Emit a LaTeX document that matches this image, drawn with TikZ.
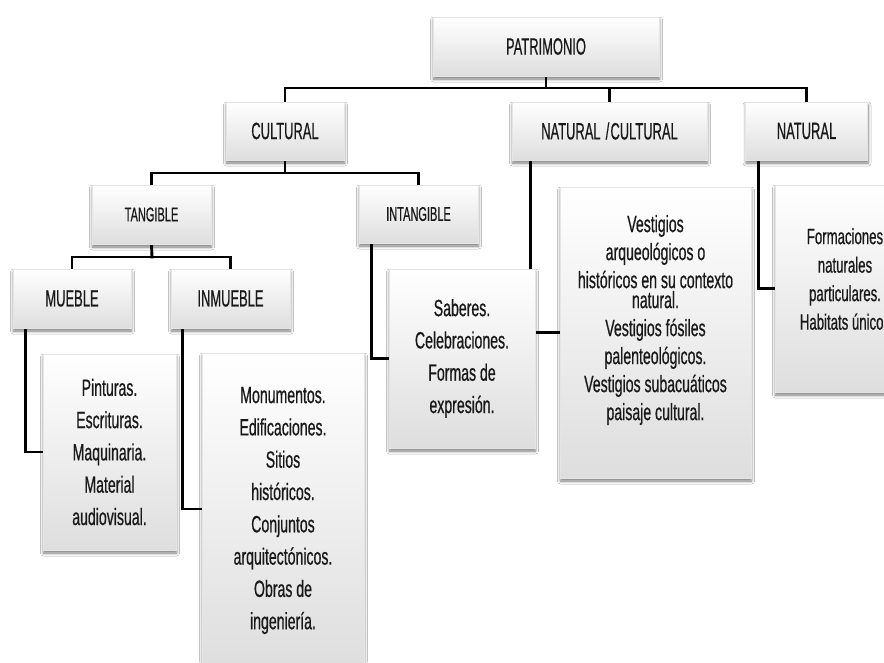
\documentclass[tikz,border=0pt]{standalone}
\usepackage{fontspec}
\setmainfont[FakeStretch=0.6,FakeBold=0.6]{Liberation Sans}
\newfontfamily\headfont[FakeStretch=0.55,FakeBold=0.5]{Liberation Sans}
\usetikzlibrary{shadows,shadows.blur}
\pgfdeclarelayer{bg}
\pgfsetlayers{bg,main}
\tikzset{
  box/.style={draw=black!10, line width=0.4pt, top color=white, bottom color=black!13,
    blur shadow={shadow xshift=0.5pt, shadow yshift=-3pt, shadow blur steps=6, shadow opacity=55, shadow blur radius=3pt},
    inner sep=0pt, align=center, text=black!90},
  headbox/.style={box, font=\headfont\fontsize{23.5}{26}\selectfont},
  smallhead/.style={box, font=\headfont\fontsize{20}{24}\selectfont},
  listbox/.style={box, font=\fontsize{23.5}{32.3}\selectfont},
  listtext/.style={align=center, inner sep=0pt, text=black!90},
  conn/.style={line width=2.9pt, black, line cap=rect},
}
\begin{document}
\begin{tikzpicture}[x=1pt, y=-1pt]
\path[use as bounding box] (0,0) rectangle (884,662);
\clip (0,0) rectangle (884,662);

% header boxes
\node[headbox, minimum width=226pt, minimum height=59pt] (patr) at (546,46.5) {PATRIMONIO};
\node[headbox, minimum width=118pt, minimum height=58pt] (cult) at (285,131) {CULTURAL};
\node[headbox, minimum width=195pt, minimum height=58pt] (nc) at (609.5,131) {NATURAL\hspace{0.22em}/\hspace{0.05em}CULTURAL};
\node[headbox, minimum width=122pt, minimum height=58pt] (nat) at (806.5,131) {NATURAL};
\node[smallhead, minimum width=119pt, minimum height=59pt] (tang) at (151.5,214.5) {TANGIBLE};
\node[smallhead, minimum width=119pt, minimum height=58pt] (intang) at (418.5,214) {INTANGIBLE};
\node[headbox, minimum width=118pt, minimum height=59pt] (mueble) at (72,298.5) {MUEBLE};
\node[headbox, minimum width=119pt, minimum height=59pt] (inmueble) at (230.5,298.5) {INMUEBLE};

% list boxes
\node[listbox, minimum width=133pt, minimum height=196pt] (pint) at (109.5,452)
  {Pinturas.\\Escrituras.\\Maquinaria.\\Material\\audiovisual.};
\node[listbox, minimum width=162pt, minimum height=315pt] (monu) at (283,510.5)
  {Monumentos.\\Edificaciones.\\Sitios\\históricos.\\Conjuntos\\arquitectónicos.\\Obras de\\ingeniería.};
\node[listbox, minimum width=146pt, minimum height=179pt] (sab) at (462,358.5)
  {Saberes.\\Celebraciones.\\Formas de\\expresión.};
\node[box, minimum width=191pt, minimum height=291pt] (vest) at (655.5,332.5) {};
\node[listtext, font=\fontsize{23.5}{28}\selectfont] (vestt) at (655.5,320)
  {Vestigios\\arqueológicos o\\históricos en su contexto\\[-8pt]natural.\\Vestigios fósiles\\palenteológicos.\\Vestigios subacuáticos\\paisaje cultural.};
\node[box, minimum width=150pt, minimum height=207pt] (form) at (850,288.5) {};
\node[listtext, font=\fontsize{22}{28.5}\selectfont] (formt) at (845,279)
  {Formaciones\\naturales\\particulares.\\Habitats únicos};

% connectors
\begin{pgfonlayer}{bg}
\fill[white] (0,0) rectangle (884,662);
\coordinate (j1) at (546,88);
\coordinate (j2) at (285,173);
\coordinate (j3) at (152,257);
\draw[conn] (patr.south) -- (j1);
\draw[conn] (cult.north) -- (cult.north |- j1) -- (nat.north |- j1) -- (nat.north);
\draw[conn] (nc.north |- j1) -- (nc.north);
\draw[conn] (cult.south) -- (j2);
\draw[conn] (tang.north) -- (tang.north |- j2) -- (intang.north |- j2) -- (intang.north);
\draw[conn] (tang.south) -- (j3);
\draw[conn] (mueble.north) -- (mueble.north |- j3) -- (inmueble.north |- j3) -- (inmueble.north);
\draw[conn] ([xshift=13pt]mueble.south west) |- (pint.west);
\draw[conn] ([xshift=12pt]inmueble.south west) |- ([yshift=1.5pt]monu.west);
\draw[conn] ([xshift=13pt]intang.south west) |- (sab.west);
\draw[conn] ([xshift=19pt]nc.south west) |- (vest.west);
\draw[conn] ([xshift=13pt]nat.south west) |- (form.west);
\end{pgfonlayer}
\end{tikzpicture}
\end{document}
